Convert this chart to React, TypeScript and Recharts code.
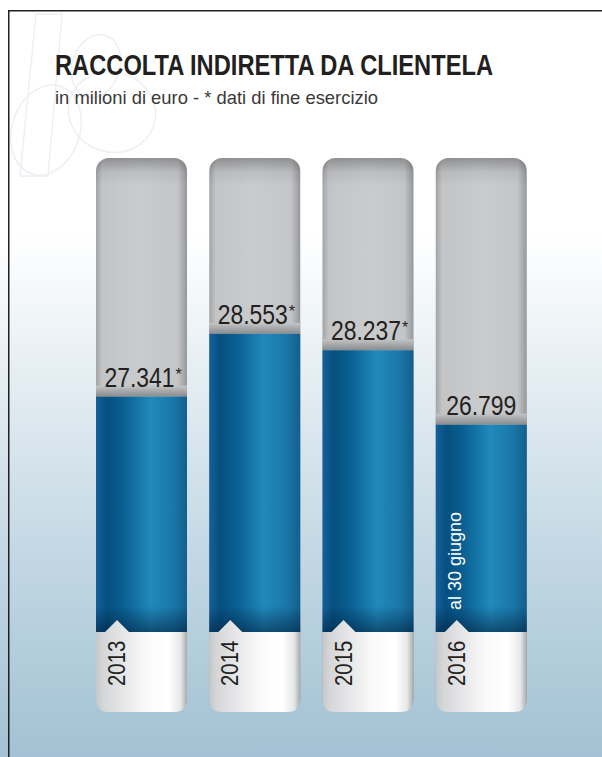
import React from "react"
import { ComposedChart, Bar, XAxis, YAxis } from "recharts"

// Raccolta indiretta da clientela, milioni di euro
const years = ["2013", "2014", "2015", "2016"]
const values = [27341, 28553, 28237, 26799]
const valueLabels = ["27.341", "28.553", "28.237", "26.799"]
const endOfYear = [true, true, true, false]
const notes = ["", "", "", "al 30 giugno"]

const rows = years.map((year, i) => ({
  year,
  value: values[i],
  label: valueLabels[i],
  star: endOfYear[i],
  note: notes[i],
}))

const FONT = "'Liberation Sans', Arial, Helvetica, sans-serif"

function Capsule(props: any) {
  const { x, y, width, height } = props
  return (
    <g>
      <rect x={x} y={y} width={width} height={height} rx={13} fill="url(#grayH)" />
      <rect x={x} y={y} width={width} height={height} rx={13} fill="url(#grayTop)" />
    </g>
  )
}

function Column(props: any) {
  const { x, y, width, height, payload } = props
  const bottom = y + height
  const base = bottom - 80
  const cx = x + width / 2
  const r = 13
  const white = `M${x},${base} L${x + 9},${base} L${x + 21},${base - 12} L${x + 33},${base} L${x + width},${base} L${x + width},${bottom - r} Q${x + width},${bottom} ${x + width - r},${bottom} L${x + r},${bottom} Q${x},${bottom} ${x},${bottom - r} Z`
  const numX = cx + (payload.star ? -2 : 0)
  return (
    <g>
      <rect x={x} y={y - 11} width={width} height={11} fill="url(#band)" />
      <rect x={x} y={y} width={width} height={base - y} fill="url(#blueH)" />
      <rect x={x} y={base - 26} width={width} height={26} fill="url(#blueShade)" />
      <path d={white} fill="url(#whiteH)" />
      <text
        transform={`translate(${numX},${y - 10}) scale(0.85,1)`}
        textAnchor="middle"
        fontFamily={FONT}
        fontSize={27}
        fill="#231f20"
      >
        {payload.label}
      </text>
      {payload.star && (
        <text x={numX + 36} y={y - 17} fontFamily={FONT} fontSize={16} fill="#231f20">
          *
        </text>
      )}
      <text
        transform={`translate(${x + 29},${bottom - 26}) rotate(-90) scale(0.85,1)`}
        fontFamily={FONT}
        fontSize={24}
        fill="#231f20"
      >
        {payload.year}
      </text>
      {payload.note && (
        <text
          transform={`translate(${x + 25},${base - 22}) rotate(-90)`}
          fontFamily={FONT}
          fontSize={18}
          fill="#ffffff"
        >
          {payload.note}
        </text>
      )}
    </g>
  )
}

export default function App() {
  return (
    <div
      style={{
        position: "absolute",
        left: 0,
        top: 0,
        width: 602,
        height: 757,
        overflow: "hidden",
        background:
          "linear-gradient(to bottom, #ffffff 0px, #ffffff 235px, #e4edf2 380px, #c2d7e3 560px, #a2c2d3 757px)",
      }}
    >
      <svg width={602} height={757} style={{ position: "absolute", left: 0, top: 0 }}>
        {/* faint logo watermark */}
        <g fill="none" stroke="#ecf0f4" strokeWidth={1.5}>
          <path d="M36,14 L62,14 L48,176 L20,176 Z" />
          <ellipse cx={46} cy={130} rx={34} ry={46} transform="rotate(18 46 130)" />
          <ellipse cx={112} cy={112} rx={44} ry={40} transform="rotate(18 112 112)" />
          <ellipse cx={96} cy={66} rx={24} ry={32} transform="rotate(18 96 66)" />
        </g>
        <path d="M8.75,757 L8.75,10.75 L602,10.75" fill="none" stroke="#231f20" strokeWidth={1.5} />
        <text
          x={55}
          y={75}
          fontFamily={FONT}
          fontWeight="bold"
          fontSize={29}
          fill="#231f20"
          textLength={438}
          lengthAdjust="spacingAndGlyphs"
        >
          RACCOLTA INDIRETTA DA CLIENTELA
        </text>
        <text
          x={55}
          y={104}
          fontFamily={FONT}
          fontSize={19}
          fill="#3a3839"
          textLength={323}
          lengthAdjust="spacingAndGlyphs"
        >
          in milioni di euro - * dati di fine esercizio
        </text>
      </svg>
      <div style={{ position: "absolute", left: 0, top: 0 }}>
        <ComposedChart
          width={602}
          height={757}
          data={rows}
          margin={{ top: 158, right: 64, bottom: 45, left: 85 }}
        >
          <defs>
            <linearGradient id="grayH" x1="0" y1="0" x2="1" y2="0">
              <stop offset="0" stopColor="#a2a3a5" />
              <stop offset="0.07" stopColor="#c3c4c6" />
              <stop offset="0.5" stopColor="#cacbcd" />
              <stop offset="0.9" stopColor="#c4c5c7" />
              <stop offset="1" stopColor="#96979a" />
            </linearGradient>
            <linearGradient id="grayTop" x1="0" y1="0" x2="0" y2="1">
              <stop offset="0" stopColor="#000000" stopOpacity={0.28} />
              <stop offset="0.025" stopColor="#000000" stopOpacity={0.06} />
              <stop offset="0.05" stopColor="#000000" stopOpacity={0} />
            </linearGradient>
            <linearGradient id="band" x1="0" y1="0" x2="0" y2="1">
              <stop offset="0" stopColor="#c4c5c7" />
              <stop offset="0.45" stopColor="#a9aaac" />
              <stop offset="1" stopColor="#8a8b8e" />
            </linearGradient>
            <linearGradient id="blueH" x1="0" y1="0" x2="1" y2="0">
              <stop offset="0" stopColor="#15609a" />
              <stop offset="0.12" stopColor="#05507f" />
              <stop offset="0.3" stopColor="#0a5f91" />
              <stop offset="0.6" stopColor="#2189bb" />
              <stop offset="0.85" stopColor="#1a77a8" />
              <stop offset="1" stopColor="#135f8c" />
            </linearGradient>
            <linearGradient id="blueShade" x1="0" y1="0" x2="0" y2="1">
              <stop offset="0" stopColor="#001c3a" stopOpacity={0} />
              <stop offset="1" stopColor="#001c3a" stopOpacity={0.55} />
            </linearGradient>
            <linearGradient id="whiteH" x1="0" y1="0" x2="1" y2="0">
              <stop offset="0" stopColor="#c6c7c9" />
              <stop offset="0.08" stopColor="#d5d6d8" />
              <stop offset="0.55" stopColor="#fafafa" />
              <stop offset="0.8" stopColor="#ffffff" />
              <stop offset="0.93" stopColor="#e6e7e8" />
              <stop offset="1" stopColor="#a9aaac" />
            </linearGradient>
          </defs>
          <XAxis dataKey="year" hide />
          <YAxis hide domain={[21250, 31950]} allowDataOverflow />
          <Bar
            dataKey="value"
            barSize={91}
            isAnimationActive={false}
            background={(p: any) => <Capsule key={`bg-${p.index}`} {...p} />}
            shape={(p: any) => <Column {...p} />}
          />
        </ComposedChart>
      </div>
    </div>
  )
}
